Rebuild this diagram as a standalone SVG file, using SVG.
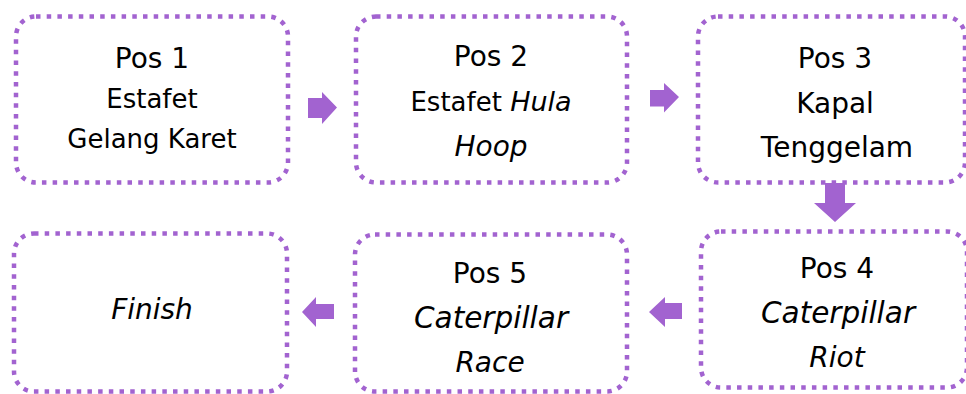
<svg xmlns="http://www.w3.org/2000/svg" width="966" height="394" viewBox="0 0 966 394">
  <style>
    .box { fill: #ffffff; stroke: #A263D0; stroke-width: 4.5; stroke-dasharray: 4.5 6.2; }
    .arrow { fill: #A263D0; }
    text { font-family: "DejaVu Sans", "Noto Sans", sans-serif; fill: #000000; text-anchor: middle; }
    .big { font-size: 28px; }
    .small { font-size: 26px; }
    .it { font-style: italic; }
    .wide { font-size: 29.5px; }
  </style>
  <rect width="966" height="394" fill="#ffffff"/>

  <g id="connectors">
    <polygon class="arrow" points="308,98 322,98 322,92 337,107.5 322,124 322,118 308,118"/>
    <polygon class="arrow" points="650,90 664,90 664,83 679,97 664,112.5 664,106.5 650,106.5"/>
    <polygon class="arrow" points="825,183 845,183 845,203 856,203 835,222 814,203 825,203"/>
    <polygon class="arrow" points="682,303 665,303 665,297 649,312 665,327 665,319 682,319"/>
    <polygon class="arrow" points="334,304 316,304 316,297 302,312 316,327 316,319 334,319"/>
  </g>

  <g id="pos1">
    <rect class="box" x="16" y="16.5" width="272" height="166" rx="20"/>
    <text class="big" x="152" y="68">Pos 1</text>
    <text class="small" x="152" y="108">Estafet</text>
    <text class="small" x="152" y="148">Gelang Karet</text>
  </g>

  <g id="pos2">
    <rect class="box" x="356" y="16.5" width="271" height="166" rx="20"/>
    <text class="big" x="491" y="66">Pos 2</text>
    <text class="small" x="491" y="111">Estafet <tspan class="it" font-size="27">Hula</tspan></text>
    <text class="big it" x="491" y="156">Hoop</text>
  </g>

  <g id="pos3">
    <rect class="box" x="698" y="16.5" width="267" height="166" rx="20"/>
    <text class="big" x="835" y="68">Pos 3</text>
    <text class="big" x="835" y="113">Kapal</text>
    <text class="big" x="837" y="157">Tenggelam</text>
  </g>

  <g id="pos4">
    <rect class="box" x="701" y="231.5" width="266" height="156" rx="20"/>
    <text class="big" x="837" y="278">Pos 4</text>
    <text class="wide it" x="838" y="323">Caterpillar</text>
    <text class="big it" x="837" y="367">Riot</text>
  </g>

  <g id="pos5">
    <rect class="box" x="355" y="234.5" width="272" height="157" rx="20"/>
    <text class="big" x="490" y="283">Pos 5</text>
    <text class="wide it" x="491" y="328">Caterpillar</text>
    <text class="big it" x="490" y="372">Race</text>
  </g>

  <g id="finish">
    <rect class="box" x="14" y="233.5" width="273" height="158" rx="20"/>
    <text class="big it" x="152" y="319">Finish</text>
  </g>
</svg>
